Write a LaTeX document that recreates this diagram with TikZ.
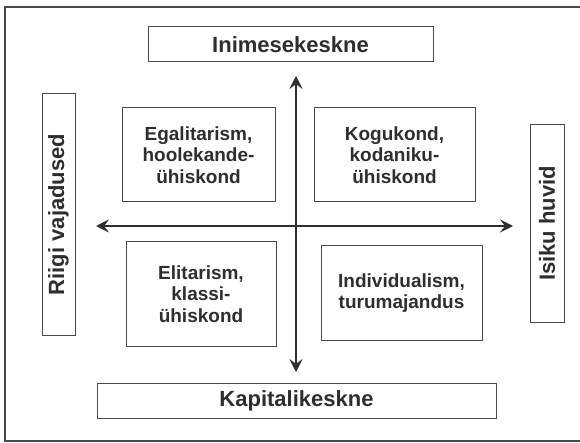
\documentclass[tikz,border=0pt]{standalone}
\usepackage{fontspec}
\setmainfont{Liberation Sans}
\usetikzlibrary{arrows.meta}
\definecolor{ink}{HTML}{2E2E2E}
\definecolor{rule}{HTML}{4A4A4A}
\tikzset{
  frame/.style={draw=rule, line width=1.4pt},
  labelbox/.style={draw=rule, line width=1pt, fill=white, inner sep=0pt,
    text=ink, font=\bfseries\fontsize{22}{22}\selectfont},
  quadbox/.style={draw=rule, line width=1pt, inner sep=0pt, text=ink,
    align=center, font=\bfseries\fontsize{19}{21.5}\selectfont},
  axis/.style={draw=ink, line width=2.2pt,
    -{Stealth[length=13pt,width=13pt,inset=5pt]}},
}
\begin{document}
\begin{tikzpicture}[x=1pt,y=-1pt]
  \useasboundingbox (0,0) rectangle (580,443);
  \fill[white] (0,0) rectangle (580,443);
  % outer frame, open towards the right edge
  \draw[frame] (580,7) -- (5,7) -- (5,441) -- (580,441);

  % pole labels
  \node[labelbox, minimum width=285pt, minimum height=35pt] (top) at (290.5,44.5) {Inimesekeskne};
  \node[labelbox, minimum width=399pt, minimum height=35pt] (bottom) at (296.5,400.5) {Kapitalikeskne};
  \node[labelbox, minimum width=241pt, minimum height=33pt, rotate=90] (left) at (58.5,214.5) {Riigi vajadused};
  \node[labelbox, minimum width=197pt, minimum height=34pt, rotate=90] (right) at (547,223.5) {Isiku huvid};

  % quadrants
  \node[quadbox, minimum width=153pt, minimum height=94pt] (ul) at (198.5,155) {Egalitarism,\\hoolekande-\\ühiskond};
  \node[quadbox, minimum width=161pt, minimum height=94pt] (ur) at (394.5,155) {Kogukond,\\kodaniku-\\ühiskond};
  \node[quadbox, minimum width=150pt, minimum height=104pt] (ll) at (201,294) {Elitarism,\\klassi-\\ühiskond};
  \node[quadbox, minimum width=161pt, minimum height=94pt] (lr) at (401.5,293) {Individualism,\\turumajandus};

  % axes
  \coordinate (cx) at (296,226);
  \coordinate (ax-top) at (296,76);
  \coordinate (ax-bot) at (296,372);
  \coordinate (ax-left) at (96,226);
  \coordinate (ax-right) at (513,226);
  \draw[axis] (cx) -- (ax-top);
  \draw[axis] (cx) -- (ax-bot);
  \draw[axis] (cx) -- (ax-left);
  \draw[axis] (cx) -- (ax-right);
\end{tikzpicture}
\end{document}
